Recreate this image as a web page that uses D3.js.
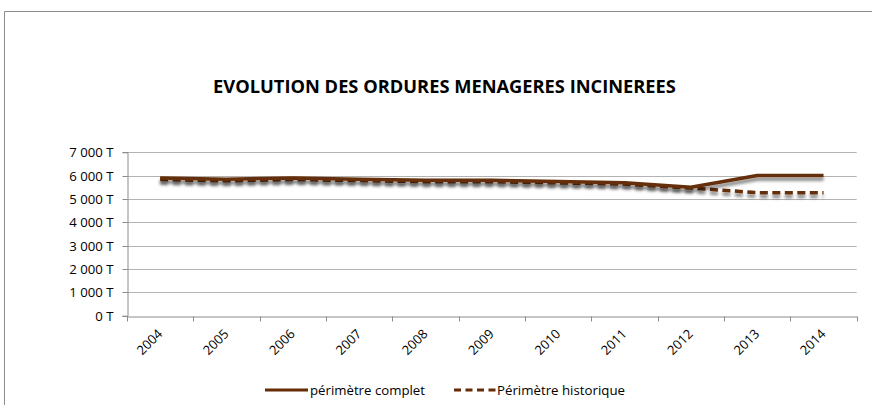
<!DOCTYPE html>
<html>
<head>
<meta charset="utf-8">
<script src="https://cdn.jsdelivr.net/npm/d3@7"></script>
<style>
  html, body { margin: 0; padding: 0; background: #fff; }
  svg { display: block; }
  text { font-family: "Open Sans", "Liberation Sans", sans-serif; fill: #000; }
</style>
</head>
<body>
<svg id="chart" width="872" height="405"></svg>
<script>
const title = "EVOLUTION DES ORDURES MENAGERES INCINEREES";
const years = ["2004","2005","2006","2007","2008","2009","2010","2011","2012","2013","2014"];
const perimetreComplet = [5900, 5850, 5900, 5850, 5800, 5800, 5750, 5700, 5500, 6010, 6010];
const perimetreHistorique = [5830, 5780, 5830, 5790, 5740, 5740, 5690, 5640, 5470, 5270, 5270];
const yTicks = [0, 1000, 2000, 3000, 4000, 5000, 6000, 7000];
const seriesNames = ["périmètre complet", "Périmètre historique"];

(function () {
const svg = d3.select("#chart");
const lineColor = "#652d07";

function fit(sel, target, base) {
  const w = sel.node().getComputedTextLength();
  sel.style("font-size", (base * target / w).toFixed(2) + "px");
}

// frame
svg.append("path")
  .attr("d", "M4.5,405 L4.5,11.5 L872,11.5")
  .attr("fill", "none").attr("stroke", "#8c8c8c").attr("stroke-width", 1);

// shadow filter
const defs = svg.append("defs");
const f = defs.append("filter").attr("id", "shadow")
  .attr("x", "-5%").attr("y", "-100%").attr("width", "110%").attr("height", "300%");
f.append("feDropShadow").attr("dx", 0).attr("dy", 3.5).attr("stdDeviation", 1.6)
  .attr("flood-color", "#000").attr("flood-opacity", 0.5);

const pLeft = 127, pRight = 856.7, pTop = 152.3, pBottom = 315.7;
const x = d3.scaleBand().domain(years).range([pLeft, pRight]);
const y = d3.scaleLinear().domain([0, 7000]).range([pBottom, pTop]);

// gridlines
svg.append("g").selectAll("line").data(yTicks.filter(d => d > 0)).join("line")
  .attr("x1", pLeft).attr("x2", pRight)
  .attr("y1", d => Math.round(y(d)) + 0.5).attr("y2", d => Math.round(y(d)) + 0.5)
  .attr("stroke", "#b3b3b3").attr("stroke-width", 1);

// y axis
const yAxis = d3.axisLeft(y).tickValues(yTicks).tickSize(5).tickPadding(9)
  .tickFormat(d => d3.format(",")(d).replace(/,/g, " ") + " T");
const gy = svg.append("g").attr("transform", `translate(${pLeft + 0.5},0)`).call(yAxis);
gy.select(".domain").attr("stroke", "#8c8c8c");
gy.selectAll(".tick line").attr("stroke", "#8c8c8c");
gy.selectAll(".tick").attr("transform", d => `translate(0,${Math.round(y(d)) + 0.5})`);
gy.selectAll("text").style("font-size", "13.2px").attr("font-family", null)
  .attr("dy", "0.35em");

// x axis
const xAxis = d3.axisBottom(x).tickSize(0).tickFormat("");
const gx = svg.append("g").attr("transform", `translate(0,${Math.round(pBottom) + 0.5})`).call(xAxis);
gx.select(".domain").attr("stroke", "#8c8c8c");
const bounds = years.map(d => x(d)).concat([pRight]);
gx.append("g").selectAll("line").data(bounds).join("line")
  .attr("x1", d => Math.round(d) + 0.5).attr("x2", d => Math.round(d) + 0.5)
  .attr("y1", 0).attr("y2", 5).attr("stroke", "#8c8c8c");
svg.append("g").selectAll("text").data(years).join("text")
  .attr("transform", d => `translate(${x(d) + x.bandwidth() / 2 + 3},${pBottom + 19}) rotate(-45)`)
  .attr("text-anchor", "end")
  .style("font-size", "13px")
  .text(d => d);

// lines
const line = d3.line()
  .x((d, i) => x(years[i]) + x.bandwidth() / 2)
  .y(d => y(d));

svg.append("path").datum(perimetreHistorique)
  .attr("d", line).attr("fill", "none")
  .attr("stroke", lineColor).attr("stroke-width", 3.5)
  .attr("stroke-dasharray", "8,4.5")
  .attr("filter", "url(#shadow)");

svg.append("path").datum(perimetreComplet)
  .attr("d", line).attr("fill", "none")
  .attr("stroke", lineColor).attr("stroke-width", 3.5)
  .attr("stroke-linejoin", "round")
  .attr("filter", "url(#shadow)");

// title
const t = svg.append("text").attr("x", 444.5).attr("y", 93)
  .attr("text-anchor", "middle").style("font-weight", "bold").style("font-size", "16px")
  .text(title);
fit(t, 463, 16);

// legend
const lg = svg.append("g");
lg.append("line").attr("x1", 265).attr("x2", 308).attr("y1", 390).attr("y2", 390)
  .attr("stroke", lineColor).attr("stroke-width", 3);
const l1 = lg.append("text").attr("x", 310).attr("y", 394.5).style("font-size", "13px").text(seriesNames[0]);
fit(l1, 115, 13);
lg.append("line").attr("x1", 454).attr("x2", 496).attr("y1", 390).attr("y2", 390)
  .attr("stroke", lineColor).attr("stroke-width", 3).attr("stroke-dasharray", "7,4.5");
const l2 = lg.append("text").attr("x", 497).attr("y", 394.5).style("font-size", "13px").text(seriesNames[1]);
fit(l2, 128, 13);
})();
</script>
</body>
</html>
